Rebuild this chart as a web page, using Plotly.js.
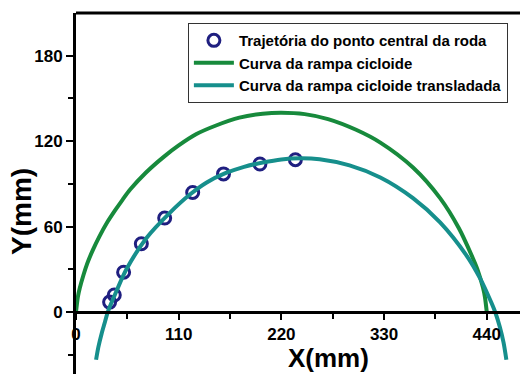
<!DOCTYPE html>
<html><head><meta charset="utf-8">
<script src="https://cdn.plot.ly/plotly-3.0.1.min.js"></script>
<style>html,body{margin:0;padding:0;background:#fff}#chart{width:520px;height:374px}</style>
</head><body><div id="chart"></div>
<script>
// Trajectory of the wheel centre (measured points)
const pointX = [36, 41, 51, 70, 95, 125, 158, 197, 235];
const pointY = [7, 12, 28, 48, 66, 84, 97, 104, 107];
// Cycloid ramp curve
const cycloidX = [0, 2, 4, 8, 12, 18, 25, 33, 42, 50, 58, 75, 94, 110, 129, 150, 175, 200, 220, 245, 270, 300, 326, 361, 390, 410, 425, 430, 436, 438, 440];
const cycloidY = [0, 10.7, 16.7, 26, 34, 43.5, 53, 62.5, 71.5, 79, 86, 98, 109, 117, 125, 131, 136.5, 139.3, 140, 139, 135.5, 128, 119, 101.5, 80, 59, 38, 30, 17, 10.7, 0];
// Translated cycloid ramp curve
const translatedX = [21.5, 24, 27.5, 31, 34, 43.5, 54, 75.5, 101, 122, 140, 160, 180, 200, 220, 240, 261, 293, 326, 361, 390, 418, 433, 445, 449, 454, 458, 461];
const translatedY = [-33.5, -24.5, -15, -7, 0, 15, 30, 52, 70, 82.5, 91, 97.5, 102, 105, 107.2, 108, 107.3, 103, 94.5, 80, 63, 40, 23.5, 6.5, 0, -10.5, -21.5, -33.5];
// Ticks
const xTickVals = [0, 110, 220, 330, 440];
const xMinorVals = [55, 165, 275, 385];
const yTickVals = [0, 60, 120, 180];
const yMinorVals = [-30, 30, 90, 150];
const seriesNames = ['Trajetória do ponto central da roda', 'Curva da rampa cicloide', 'Curva da rampa cicloide transladada'];
const axisTitles = ['X(mm)', 'Y(mm)'];

const xRange = [0, 475.6];
const yRange = [-43.5, 210];

const FONT = 'Arial, "Liberation Sans", sans-serif';

const traces = [
  {x: pointX, y: pointY, name: seriesNames[0], type: 'scatter', mode: 'markers',
   marker: {symbol: 'circle-open', size: 12, color: '#1f1f80', line: {width: 3, color: '#1f1f80'}}},
  {x: cycloidX, y: cycloidY, name: seriesNames[1], type: 'scatter', mode: 'lines',
   line: {color: '#178a3c', width: 4, shape: 'spline', smoothing: 0.8}},
  {x: translatedX, y: translatedY, name: seriesNames[2], type: 'scatter', mode: 'lines',
   line: {color: '#168f8c', width: 4, shape: 'spline', smoothing: 0.8}}
];

const tickFont = {family: FONT, size: 17, color: '#000', weight: 'bold'};

const layout = {
  width: 520, height: 374,
  margin: {l: 76, r: 0, t: 13, b: 0},
  paper_bgcolor: '#fff', plot_bgcolor: '#fff',
  showlegend: true,
  legend: {x: 0.252, y: 0.972, xanchor: 'left', yanchor: 'top',
    bgcolor: '#fff', bordercolor: '#333', borderwidth: 1,
    font: {family: FONT, size: 15, color: '#000', weight: 'bold'},
    itemwidth: 40, tracegroupgap: 0},
  xaxis: {range: xRange, anchor: 'free', position: (0 - yRange[0]) / (yRange[1] - yRange[0]),
    showline: true, linecolor: '#000', linewidth: 2.5, showgrid: false, zeroline: false,
    ticks: 'outside', ticklen: 6, tickwidth: 2, tickcolor: '#000',
    tickmode: 'array', tickvals: xTickVals, ticktext: xTickVals.map(String), tickfont: tickFont,
    minor: {tickvals: xMinorVals, ticks: 'outside', ticklen: 5, tickwidth: 2, tickcolor: '#000', showgrid: false}},
  yaxis: {range: yRange,
    showline: true, linecolor: '#000', linewidth: 3, showgrid: false, zeroline: false,
    ticks: 'outside', ticklen: 7, tickwidth: 2, tickcolor: '#000',
    tickmode: 'array', tickvals: yTickVals, ticktext: yTickVals.map(String), tickfont: tickFont,
    minor: {tickvals: yMinorVals, ticks: 'outside', ticklen: 5, tickwidth: 2, tickcolor: '#000', showgrid: false}},
  annotations: [
    {text: axisTitles[0], xref: 'paper', yref: 'paper', x: 0.5676, y: 0.0443, xanchor: 'center', yanchor: 'middle',
     showarrow: false, font: {family: FONT, size: 26, color: '#000', weight: 'bold'}},
    {text: axisTitles[1], xref: 'paper', yref: 'paper', x: -0.124, y: 0.4515, xanchor: 'center', yanchor: 'middle',
     textangle: -90, showarrow: false, font: {family: FONT, size: 28, color: '#000', weight: 'bold'}}
  ],
  shapes: [{type: 'line', xref: 'paper', yref: 'paper', x0: 0, x1: 1, y0: 1, y1: 1,
    line: {color: '#000', width: 3}}]
};

Plotly.newPlot('chart', traces, layout, {displayModeBar: false, staticPlot: true});
</script>
</body></html>
